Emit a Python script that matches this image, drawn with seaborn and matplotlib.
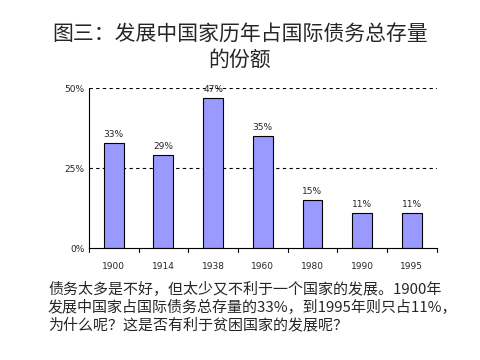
import matplotlib
matplotlib.use("Agg")
import matplotlib.pyplot as plt
import pandas as pd
import seaborn as sns

years = ["1900", "1914", "1938", "1960", "1980", "1990", "1995"]
shares = [33, 29, 47, 35, 15, 11, 11]
y_ticks = [0, 25, 50]
y_tick_labels = ["0%", "25%", "50%"]
title = "图三：发展中国家历年占国际债务总存量\n的份额"
note = ("债务太多是不好，但太少又不利于一个国家的发展。1900年\n"
        "发展中国家占国际债务总存量的33%，到1995年则只占11%，\n"
        "为什么呢？这是否有利于贫困国家的发展呢？")

sns.set_style("white")
plt.rcParams["font.family"] = ["Noto Sans CJK SC", "DejaVu Sans"]

df = pd.DataFrame({"year": years, "share": shares})

fig = plt.figure(figsize=(4.8, 3.6), dpi=100)
ax = fig.add_axes([0.185, 0.311, 0.725, 0.444])

sns.barplot(data=df, x="year", y="share", color="#9999FF", saturation=1,
            edgecolor="black", linewidth=0.8, width=0.4, ax=ax)

# bar value labels
for i, v in enumerate(shares):
    ax.text(i, v + 1.2, f"{v}%", ha="center", va="bottom", fontsize=6.5,
            family="DejaVu Sans")

ax.set_ylim(0, 50)
ax.set_xlim(-0.5, len(years) - 0.5)
ax.set_yticks(y_ticks)
ax.set_yticklabels(y_tick_labels, fontsize=6.5, family="DejaVu Sans")
ax.set_xticks(range(len(years)))
ax.set_xticklabels(years, fontsize=6.5, family="DejaVu Sans")
ax.tick_params(axis="x", length=0, pad=10)
ax.tick_params(axis="y", length=0, pad=3)
ax.set_xlabel("")
ax.set_ylabel("")

# dashed grid lines
for t in y_ticks[1:]:
    ax.axhline(t, color="black", linestyle=(0, (3, 3)), linewidth=0.8, zorder=0)

# category separators on the x axis
for b in range(len(years) + 1):
    ax.plot([b - 0.5, b - 0.5], [0, -1.2], color="black", linewidth=0.8,
            clip_on=False)

sns.despine(ax=ax, top=True, right=True)
for s in ["left", "bottom"]:
    ax.spines[s].set_color("black")
    ax.spines[s].set_linewidth(0.8)

fig.text(0.5, 0.869, title, ha="center", va="center", fontsize=15,
         linespacing=1.15)
fig.text(0.1, 0.147, note, ha="left", va="center", fontsize=10.8,
         linespacing=1.2)

fig.savefig("out.png", dpi=100)
